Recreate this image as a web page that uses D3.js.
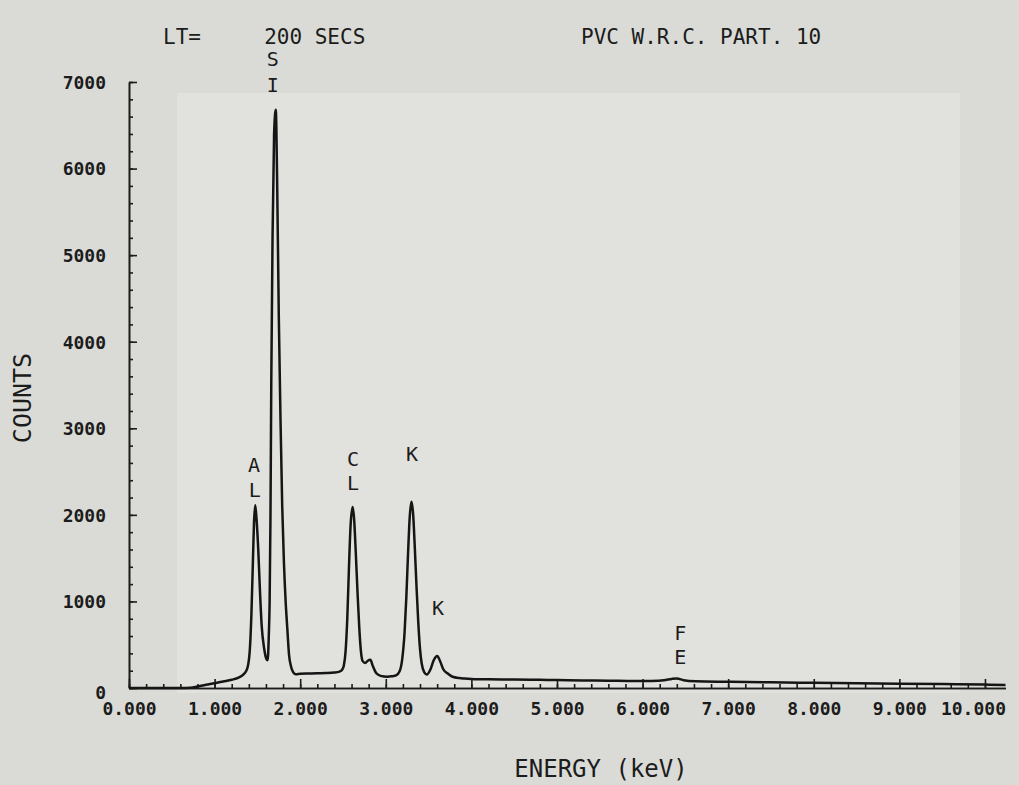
<!DOCTYPE html>
<html>
<head>
<meta charset="utf-8">
<script src="https://cdn.jsdelivr.net/npm/d3@7"></script>
<style>
  body { margin: 0; background: #dbdcd7; }
  text { font-family: "DejaVu Sans Mono", "Liberation Mono", monospace; fill: #1c1c1c; }
</style>
</head>
<body>
<script>
// EDS spectrum: energy in keV and counts
var energy = [0.00, 0.30, 0.60, 0.72, 0.80, 0.90, 1.00, 1.10, 1.20, 1.28, 1.34, 1.38, 1.41, 1.43, 1.45, 1.46, 1.475, 1.49, 1.51, 1.53, 1.55, 1.58, 1.605, 1.62,
  1.633, 1.643, 1.653, 1.662, 1.677, 1.695, 1.715, 1.73, 1.75, 1.77, 1.79, 1.81, 1.83, 1.85, 1.87, 1.89, 1.92, 1.95,
  2.00, 2.10, 2.20, 2.30, 2.40, 2.46, 2.49, 2.51, 2.53, 2.55, 2.57, 2.59, 2.613, 2.63, 2.65, 2.67, 2.69, 2.71, 2.73, 2.76, 2.79, 2.82, 2.85, 2.89, 2.94, 3.02,
  3.07, 3.12, 3.16, 3.19, 3.22, 3.24, 3.26, 3.28, 3.30, 3.32, 3.34, 3.36, 3.38, 3.40, 3.42, 3.45, 3.48, 3.52, 3.56, 3.60, 3.635, 3.67, 3.72, 3.78, 3.86,
  3.92, 4.00, 4.20, 4.50, 4.80, 5.00, 5.30, 5.60, 5.90, 6.10, 6.25, 6.34, 6.40, 6.48, 6.62, 7.00, 7.50, 8.00, 8.50, 9.00, 9.50, 10.00, 10.24];
var counts = [0, 0, 0, 3, 18, 38, 55, 75, 95, 120, 160, 220, 420, 850, 1550, 1900, 2110, 1950, 1600, 1120, 720, 450, 335, 320,
  600, 1000, 2000, 3500, 5200, 6400, 6680, 5900, 4300, 3100, 2100, 1450, 1000, 680, 380, 260, 180, 160,
  165, 168, 170, 172, 178, 190, 210, 260, 420, 800, 1400, 1900, 2090, 1950, 1550, 1100, 700, 420, 310, 288, 315, 325, 250, 170, 140, 130,
  135, 145, 190, 320, 650, 1050, 1550, 1980, 2150, 2000, 1600, 1150, 750, 450, 280, 180, 155, 210, 320, 370, 310, 220, 170, 130, 115,
  110, 105, 100, 98, 95, 92, 88, 85, 80, 82, 90, 105, 110, 90, 78, 72, 65, 60, 55, 50, 45, 40, 35];

var yMajor = [0, 1000, 2000, 3000, 4000, 5000, 6000, 7000];
var xMajor = [0, 1, 2, 3, 4, 5, 6, 7, 8, 9, 10];

// peak labels: energy, counts level of the letter, letter
var peakLabels = [
  [1.68, 7270, "S"], [1.68, 6960, "I"],
  [1.46, 2580, "A"], [1.47, 2290, "L"],
  [2.617, 2640, "C"], [2.617, 2370, "L"],
  [3.306, 2700, "K"],
  [3.61, 920, "K"],
  [6.44, 640, "F"], [6.44, 360, "E"]
];

var W = 1019, H = 785;

var svg = d3.select("body")
  .append("svg")
  .attr("width", W)
  .attr("height", H);

svg.append("rect").attr("width", W).attr("height", H).attr("fill", "#dadbd6");
svg.append("rect")
  .attr("x", 177).attr("y", 93).attr("width", 783).attr("height", 600)
  .attr("fill", "#e1e1dd");

var x = d3.scaleLinear().domain([0, 10.24]).range([129, 1005.5]);
var y = d3.scaleLinear().domain([0, 7000]).range([688, 82]);

var points = d3.zip(energy, counts);

function ink(g){
  g.selectAll("line,path").attr("stroke", "#1c1c1c").attr("stroke-width", 1.6);
}

// y axis, ticks pointing inward
svg.append("g")
  .attr("transform", "translate(129,0)")
  .call(d3.axisLeft(y).tickValues(d3.range(0, 7001, 200)).tickSize(-4).tickSizeOuter(0).tickFormat(""))
  .call(ink);

var yAxis = svg.append("g")
  .attr("transform", "translate(129,0)")
  .call(d3.axisLeft(y).tickValues(yMajor).tickSize(-8).tickSizeOuter(0).tickPadding(23).tickFormat(d3.format("d")))
  .call(ink);
yAxis.selectAll("text").style("font-size", "18px").style("font-weight", "bold").attr("dy", "0.35em");
yAxis.selectAll(".tick").filter(function(d){ return d === 0; }).select("text").attr("dy", "0.6em");

// x axis
svg.append("g")
  .attr("transform", "translate(0,688)")
  .call(d3.axisBottom(x).tickValues(d3.range(0, 51).map(function(i){ return i * 0.2; })).tickSize(-4).tickSizeOuter(0).tickFormat(""))
  .call(ink);

var xAxis = svg.append("g")
  .attr("transform", "translate(0,688)")
  .call(d3.axisBottom(x).tickValues(xMajor).tickSize(-9).tickSizeOuter(0).tickPadding(14).tickFormat(d3.format(".3f")))
  .call(ink);
xAxis.selectAll("text").style("font-size", "18px").style("font-weight", "bold");
xAxis.selectAll(".tick").filter(function(d){ return d === 10; }).select("text").attr("dx", -12);

// spectrum
var line = d3.line()
  .x(function(d){ return x(d[0]); })
  .y(function(d){ return y(d[1]); })
  .curve(d3.curveMonotoneX);

svg.append("path")
  .datum(points)
  .attr("d", line)
  .attr("fill", "none")
  .attr("stroke", "#151515")
  .attr("stroke-width", 2.5)
  .attr("stroke-linejoin", "round");

svg.selectAll(".peak")
  .data(peakLabels)
  .enter()
  .append("text")
  .attr("class", "peak")
  .attr("x", function(d){ return x(d[0]); })
  .attr("y", function(d){ return y(d[1]); })
  .attr("text-anchor", "middle")
  .attr("dy", "0.35em")
  .style("font-size", "20px")
  .text(function(d){ return d[2]; });

// titles
svg.append("text").attr("x", 163).attr("y", 44).style("font-size", "21px")
  .style("white-space", "pre").text("LT=     200 SECS");
svg.append("text").attr("x", 581).attr("y", 44).style("font-size", "21px")
  .text("PVC W.R.C. PART. 10");

svg.append("text")
  .attr("transform", "translate(22,398) rotate(-90)")
  .attr("text-anchor", "middle").attr("dy", "0.35em")
  .style("font-size", "25px")
  .text("COUNTS");

svg.append("text")
  .attr("x", 601).attr("y", 769)
  .attr("text-anchor", "middle").attr("dy", "0.35em")
  .style("font-size", "24px")
  .text("ENERGY (keV)");
</script>
</body>
</html>
